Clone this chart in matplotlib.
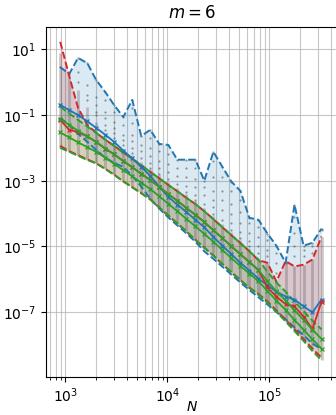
import numpy as np
import matplotlib
matplotlib.use("Agg")
import matplotlib.pyplot as plt
import matplotlib.ticker as ticker

# sample sizes
N = [890, 1090, 1330, 1640, 2000, 2460, 3010, 3690, 4520, 5540,
     6790, 8330, 10200, 12500, 15300, 18800, 23000, 28200, 34600, 42400,
     51900, 63600, 78000, 95600, 117000, 144000, 176000, 216000, 264000, 324000]

# errors, stored as log10 exponents
blue_max = [0.46, 0.25, 0.74, 0.58, 0.07, -0.30, -0.70, -1.06, -0.54, -1.64,
            -1.45, -1.88, -1.91, -2.36, -2.36, -2.36, -3.00, -2.12, -2.58, -3.03,
            -3.31, -4.13, -4.19, -4.61, -4.98, -5.50, -3.73, -4.98, -4.89, -4.46]
blue_med = [-0.69, -0.85, -1.00, -1.19, -1.39, -1.60, -1.82, -2.08, -2.32, -2.58,
            -2.85, -3.19, -3.49, -3.73, -3.95, -4.19, -4.42, -4.71, -4.98, -5.24,
            -5.50, -5.74, -5.98, -6.19, -6.38, -6.53, -6.62, -6.83, -7.01, -6.62]
blue_min = [-1.09, -1.30, -1.57, -1.82, -2.06, -2.30, -2.46, -2.58, -2.85, -3.18,
            -3.55, -3.85, -4.12, -4.36, -4.60, -4.86, -5.15, -5.38, -5.62, -5.86,
            -6.10, -6.33, -6.55, -6.77, -7.00, -7.22, -7.47, -7.71, -7.96, -8.14]

red_max = [1.23, 0.19, -0.78, -1.30, -1.54, -1.75, -1.94, -2.14, -2.33, -2.53,
           -2.73, -2.93, -3.13, -3.32, -3.52, -3.71, -3.93, -4.17, -4.42, -4.66,
           -4.90, -5.15, -5.42, -5.50, -6.07, -5.45, -5.61, -5.56, -5.40, -4.70]
red_med = [-1.15, -1.45, -1.52, -1.65, -1.82, -2.02, -2.20, -2.40, -2.59, -2.79,
           -2.98, -3.19, -3.41, -3.61, -3.83, -4.04, -4.26, -4.51, -4.75, -5.00,
           -5.24, -5.48, -5.72, -6.25, -6.53, -6.76, -6.83, -7.14, -7.52, -6.68]
red_min = [-1.94, -2.10, -2.22, -2.35, -2.47, -2.64, -2.82, -3.02, -3.20, -3.38,
           -3.57, -3.82, -4.06, -4.30, -4.54, -4.80, -5.04, -5.28, -5.54, -5.79,
           -6.03, -6.26, -6.45, -6.68, -6.95, -7.24, -7.52, -7.82, -8.12, -8.39]

green_max = [-0.75, -0.95, -1.15, -1.35, -1.54, -1.75, -1.94, -2.14, -2.33, -2.53,
             -2.73, -2.93, -3.13, -3.32, -3.52, -3.71, -3.93, -4.17, -4.42, -4.66,
             -4.90, -5.15, -5.40, -5.78, -6.10, -6.38, -6.68, -6.97, -7.26, -7.53]
green_a = [-1.13, -1.30, -1.48, -1.65, -1.82, -2.02, -2.20, -2.40, -2.59, -2.79,
           -2.98, -3.19, -3.41, -3.61, -3.83, -4.04, -4.26, -4.51, -4.75, -5.00,
           -5.24, -5.48, -5.72, -6.06, -6.37, -6.65, -6.95, -7.24, -7.54, -7.82]
green_b = [-1.53, -1.68, -1.83, -1.98, -2.12, -2.30, -2.49, -2.68, -2.87, -3.06,
           -3.25, -3.48, -3.70, -3.93, -4.16, -4.39, -4.62, -4.86, -5.11, -5.36,
           -5.60, -5.83, -6.06, -6.36, -6.65, -6.94, -7.24, -7.54, -7.83, -8.12]
green_min = [-2.00, -2.12, -2.24, -2.37, -2.47, -2.64, -2.82, -3.02, -3.20, -3.38,
             -3.57, -3.82, -4.06, -4.30, -4.54, -4.80, -5.04, -5.28, -5.54, -5.79,
             -6.03, -6.26, -6.47, -6.71, -6.99, -7.29, -7.58, -7.88, -8.19, -8.47]

# individual runs: dense part of each column, then the scattered ones above it
dots_top = [0.90, 0.15, -0.25, -0.75, -1.20, -1.65, -1.84, -2.04, -2.23, -2.43,
            -2.63, -2.83, -3.03, -3.22, -3.42, -3.61, -3.83, -4.07, -4.32, -4.56,
            -4.80, -5.05, -5.42, -5.50, -6.07, -5.45, -5.61, -5.56, -5.40, -4.70]
dots_sparse = [
    [], [], [0.30, 0.00], [-0.10, -0.40, -0.55], [-0.45, -0.70, -0.90, -1.00],
    [-0.55, -0.90, -1.10, -1.30, -1.45], [-0.90, -1.20, -1.40, -1.55, -1.70],
    [-1.30, -1.60, -1.75, -1.90], [-0.80, -1.25, -1.60, -1.80, -2.00, -2.15],
    [-1.90, -2.10, -2.30], [-1.70, -2.00, -2.25, -2.45, -2.60],
    [-2.10, -2.40, -2.60, -2.80], [-2.20, -2.50, -2.75, -2.95],
    [-2.60, -2.85, -3.10], [-2.60, -2.90, -3.15, -3.35],
    [-2.60, -2.95, -3.20, -3.45, -3.60], [-3.20, -3.45, -3.70],
    [-2.40, -2.90, -3.30, -3.60, -3.80, -4.00], [-2.90, -3.30, -3.60, -3.90, -4.20],
    [-3.30, -3.70, -4.00, -4.30, -4.50], [-3.60, -3.95, -4.30, -4.55, -4.75],
    [-4.30, -4.60, -4.85, -5.00], [-4.40, -4.70, -5.00, -5.20],
    [-4.80, -5.10, -5.30], [-5.20, -5.50, -5.80], [],
    [-4.10, -4.60, -5.00, -5.30], [-5.10, -5.30], [-5.00, -5.20], [-4.50],
]

methods = [
    ("tab:blue", blue_min, blue_med, blue_max, 0.16),
    ("tab:red", red_min, red_med, red_max, 0.18),
    ("tab:green", green_min, green_a, green_max, 0.16),
]

fig = plt.figure(figsize=(3.36, 4.15), dpi=100)
ax = fig.add_axes([0.137, 0.0916, 0.869, 0.844])

x = np.array(N, dtype=float)

def p10(v):
    return 10.0 ** np.asarray(v, dtype=float)

# shaded min-max bands
for color, lo, med, hi, alpha in methods:
    ax.fill_between(x, p10(lo), p10(hi), color=color, alpha=alpha,
                    linewidth=0, zorder=1)

# individual runs
ax.vlines(x, p10(green_min), p10(dots_top), color="#555555", alpha=0.3,
          linewidth=2.0, zorder=2)
sx, sy = [], []
for n, col in zip(N, dots_sparse):
    for v in col:
        sx.append(n)
        sy.append(v)
ax.scatter(sx, p10(sy), s=2.5, color="#555555", alpha=0.6, linewidths=0, zorder=2)
ax.scatter(x, p10(blue_max), s=2.5, color="#555555", alpha=0.6, linewidths=0, zorder=2)

# min/max dashed, medians solid with crosses
for color, lo, med, hi, alpha in methods:
    ax.plot(x, p10(hi), "--", color=color, lw=1.4, zorder=3)
    ax.plot(x, p10(lo), "--", color=color, lw=1.4, zorder=3)
    ax.plot(x, p10(med), "-", color=color, lw=1.3, marker="x",
            markersize=3.5, markeredgewidth=0.9, zorder=4)
ax.plot(x, p10(green_b), "-", color="tab:green", lw=1.3, marker="x",
        markersize=3.5, markeredgewidth=0.9, zorder=4)

ax.set_xscale("log")
ax.set_yscale("log")
ax.set_xlim(646, 4.7e5)
ax.set_ylim(1.05e-9, 49)
ax.yaxis.set_major_locator(ticker.FixedLocator([1e1, 1e-1, 1e-3, 1e-5, 1e-7]))
ax.yaxis.set_minor_locator(ticker.NullLocator())

ax.grid(True, which="both", axis="x", color="#b0b0b0", linewidth=0.8, alpha=0.7)
ax.grid(True, which="major", axis="y", color="#b0b0b0", linewidth=0.8, alpha=0.7)
ax.set_axisbelow(True)

ax.set_title("$m = 6$", fontsize=12)
ax.set_xlabel("$N$", fontsize=10, va="top")
ax.xaxis.set_label_coords(0.5, -0.066)

fig.savefig("out.png", dpi=100)
